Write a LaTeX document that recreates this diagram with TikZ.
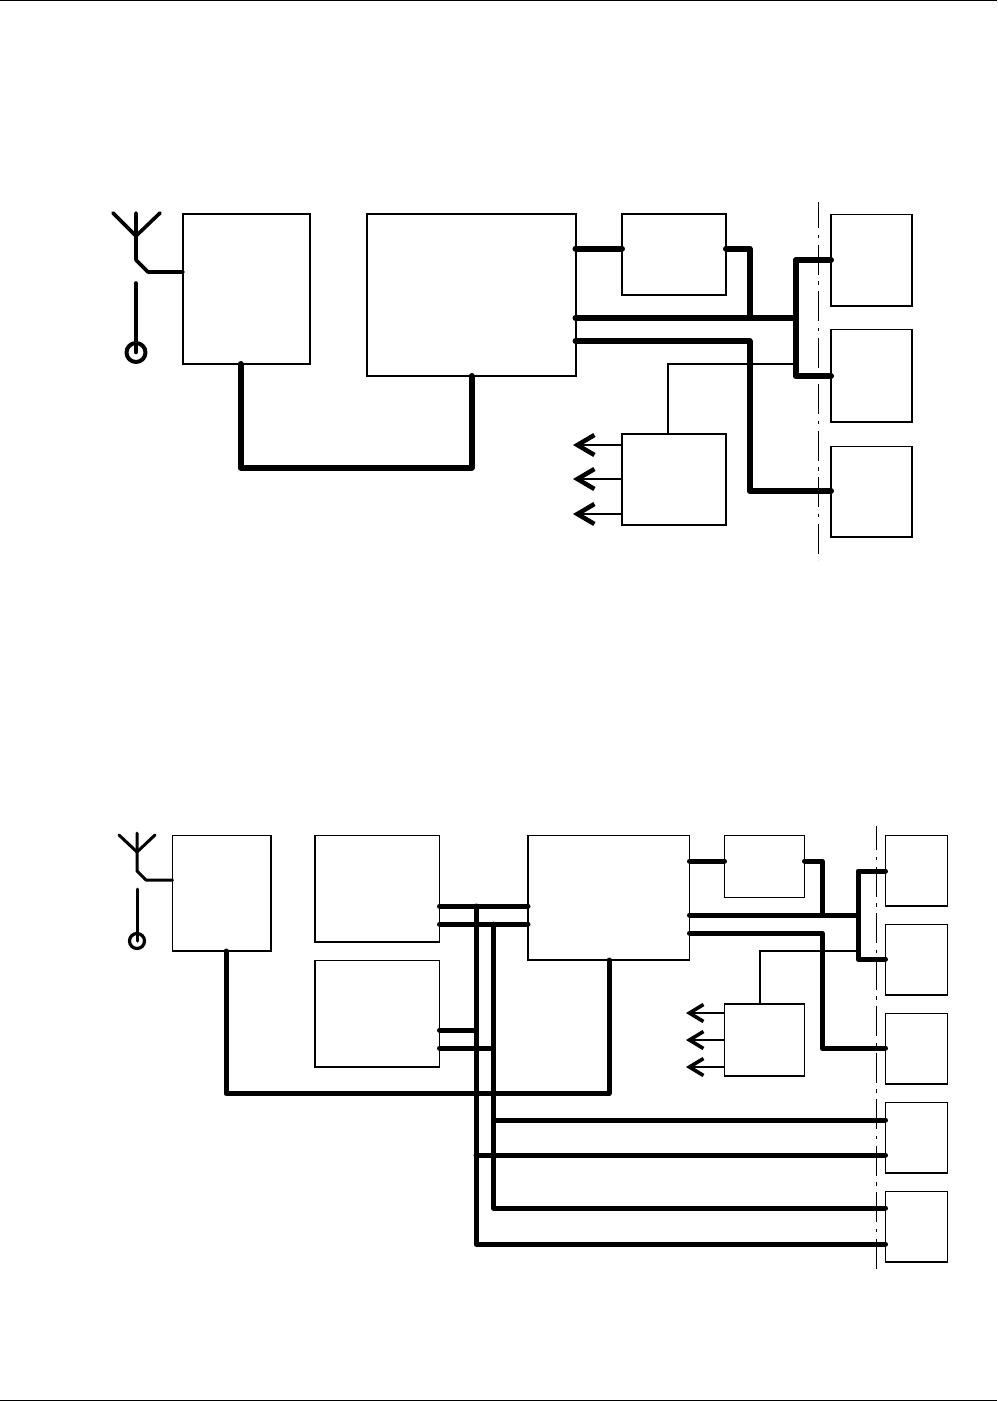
\documentclass[tikz,border=0pt]{standalone}
\usepackage{tikz}
\usetikzlibrary{arrows.meta}
\tikzset{
  blk/.style={draw, line width=2pt, inner sep=0pt, outer sep=0pt, anchor=north west},
  blkthin/.style={blk, line width=1.4pt},
  bus/.style={line width=#1, line cap=round, line join=round},
  bus/.default=6pt,
  wire/.style={line width=2pt},
  aer/.style={line width=#1, line cap=round, line join=round},
  aer/.default=3.6pt,
  ctl/.style={line width=1.5pt, -{Straight Barb[length=17pt,width=20pt,line width=4.5pt]}},
  sepline/.style={line width=1.2pt, dash pattern=on 30pt off 6.5pt on 3.5pt off 6.5pt},
}
\begin{document}
\begin{tikzpicture}[x=1pt,y=-1pt]
  \useasboundingbox (0,0) rectangle (997,1401);
  \coordinate (tl) at (0,0.5); \coordinate (tr) at (997,0.5);
  \coordinate (bl) at (0,1400.5); \coordinate (br) at (997,1400.5);
  \draw[line width=1pt] (tl) -- (tr); \draw[line width=1pt] (bl) -- (br);

  % upper diagram
  \node[blk, minimum width=126.5pt, minimum height=150.5pt] (rf) at (183,213.5) {};
  \node[blk, minimum width=208.5pt, minimum height=162.5pt] (cpu) at (367,213.5) {};
  \node[blk, minimum width=104pt, minimum height=81.5pt] (dsp) at (622,213.5) {};
  \node[blk, minimum width=104pt, minimum height=91.5pt] (pwr) at (622,433.5) {};
  \node[blkthin, minimum width=81pt, minimum height=91.5pt] (sa) at (831,214.5) {};
  \node[blkthin, minimum width=81pt, minimum height=92.5pt] (sb) at (831,329.5) {};
  \node[blkthin, minimum width=81pt, minimum height=90.5pt] (sc) at (831,446.5) {};
  \coordinate (atip) at (136,213); \coordinate (afork) at (136,236); \coordinate (abend) at (136,260);
  \coordinate (aleft) at (113,213); \coordinate (aright) at (160,213);
  \coordinate (gtop) at (136,283); \coordinate (gnd) at (136,352.5);
  \draw[aer] (atip) -- (abend) -- ++(12,12) -- (rf.west |- 0,272);
  \draw[aer] (aleft) -- (afork) -- (aright);
  \draw[aer] (gtop) -- (gnd); \draw[aer=4pt] (gnd) circle (9.5);
  \draw[bus] (rf.south -| 240.5,0) -- (240.5,467.5) -- (471.5,467.5) -- (cpu.south -| 471.5,0);
  \draw[bus] (cpu.east |- 0,248.5) -- (dsp.west |- 0,248.5);
  \draw[bus] (dsp.east |- 0,248.5) -- (749.5,248.5) -- (749.5,318);
  \draw[bus] (cpu.east |- 0,318) -- (795.5,318);
  \draw[bus] (cpu.east |- 0,341) -- (749.5,341) -- (749.5,491) -- (sc.west |- 0,491);
  \draw[bus] (sa.west |- 0,260) -- (795.5,260) -- (795.5,376) -- (sb.west |- 0,376);
  \draw[wire] (795,364) -- (668,364) -- (pwr.north -| 668,0);
  \foreach \y in {445,479,514} \draw[ctl] (pwr.west |- 0,\y) -- (573,\y);
  \coordinate (sep1a) at (818.5,202); \coordinate (sep1b) at (818.5,560);
  \draw[sepline, dash phase=4pt] (sep1a) -- (sep1b);

  % lower diagram
  \node[blkthin, minimum width=98.5pt, minimum height=115.5pt] (rf2) at (172.5,835.5) {};
  \node[blkthin, minimum width=124.5pt, minimum height=106.5pt] (mema) at (315,835.5) {};
  \node[blkthin, minimum width=124.5pt, minimum height=106.5pt] (memb) at (315,960.5) {};
  \node[blkthin, minimum width=161.5pt, minimum height=124.5pt] (cpu2) at (528,835.5) {};
  \node[blkthin, minimum width=80pt, minimum height=62pt] (dsp2) at (724.5,835.5) {};
  \node[blkthin, minimum width=80pt, minimum height=72pt] (pwr2) at (724.5,1004) {};
  \foreach \n/\y in {ta/835.5,tb/924.5,tc/1013.5,td/1102.5,te/1191.5}
    \node[blkthin, minimum width=62pt, minimum height=70.5pt] (\n) at (885.5,\y) {};
  \coordinate (btip) at (137,833); \coordinate (bfork) at (137,852); \coordinate (bbend) at (137,871);
  \coordinate (bleft) at (119,835); \coordinate (bright) at (155,835);
  \coordinate (hgtop) at (137,889); \coordinate (hgnd) at (137,941);
  \draw[aer=3pt] (btip) -- (bbend) -- ++(9,9) -- (rf2.west |- 0,880);
  \draw[aer=3pt] (bleft) -- (bfork) -- (bright);
  \draw[aer=3pt] (hgtop) -- (hgnd); \draw[aer=3.2pt] (hgnd) circle (7.5);
  \draw[bus=5pt] (rf2.south -| 226,0) -- (226,1093.5) -- (609,1093.5) -- (cpu2.south -| 609,0);
  \draw[bus=5pt] (mema.east |- 0,906) -- (cpu2.west |- 0,906);
  \draw[bus=5pt] (mema.east |- 0,924) -- (cpu2.west |- 0,924);
  \draw[bus=5pt] (memb.east |- 0,1030) -- (476,1030);
  \draw[bus=5pt] (memb.east |- 0,1048) -- (493.5,1048);
  \draw[bus=5pt] (476,906) -- (476,1244) -- (te.west |- 0,1244);
  \draw[bus=5pt] (493.5,924) -- (493.5,1208) -- (te.west |- 0,1208);
  \draw[bus=5pt] (476,1155) -- (td.west |- 0,1155);
  \draw[bus=5pt] (493.5,1120) -- (td.west |- 0,1120);
  \draw[bus=5pt] (cpu2.east |- 0,861) -- (dsp2.west |- 0,861);
  \draw[bus=5pt] (dsp2.east |- 0,861) -- (822,861) -- (822,915);
  \draw[bus=5pt] (cpu2.east |- 0,915) -- (858,915);
  \draw[bus=5pt] (cpu2.east |- 0,933) -- (822,933) -- (822,1048) -- (tc.west |- 0,1048);
  \draw[bus=5pt] (ta.west |- 0,871) -- (858,871) -- (858,959) -- (tb.west |- 0,959);
  \draw[wire] (858,951) -- (760,951) -- (pwr2.north -| 760,0);
  \foreach \y in {1013,1040,1067} \draw[ctl, -{Straight Barb[length=14pt,width=17pt,line width=3.6pt]}] (pwr2.west |- 0,\y) -- (686,\y);
  \coordinate (sep2a) at (876.5,826); \coordinate (sep2b) at (876.5,1270);
  \draw[sepline, dash phase=6pt] (sep2a) -- (sep2b);
\end{tikzpicture}
\end{document}
